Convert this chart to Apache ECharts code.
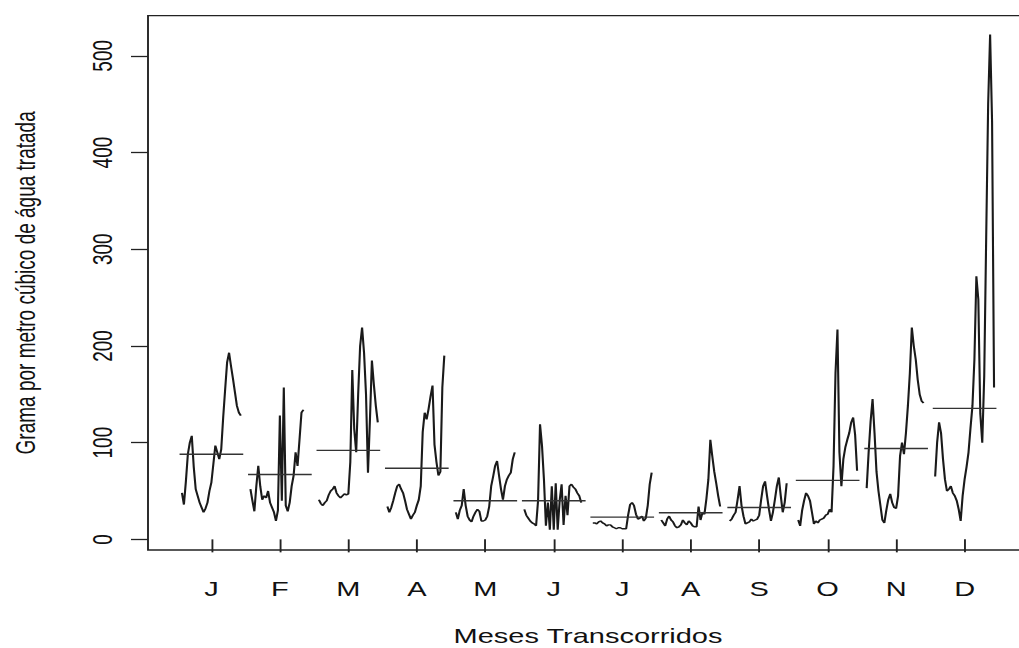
<!DOCTYPE html>
<html>
<head>
<meta charset="utf-8">
<script src="https://cdn.jsdelivr.net/npm/echarts@6/dist/echarts.min.js"></script>
<style>
html,body{margin:0;padding:0;background:#fff;overflow:hidden}
#wrap{width:1019px;height:648px;overflow:hidden;position:relative;background:#fff}
#chart{height:648px;transform-origin:0 0}
</style>
</head>
<body>
<div id="wrap"><div id="chart"></div></div>
<script>
// ---- data ----
const monthLabels = ['J','F','M','A','M','J','J','A','S','O','N','D'];
const yTicks = [0, 100, 200, 300, 400, 500];
const jan = [48, 36, 60, 88, 100, 107, 75, 52, 45, 38, 33, 28, 32, 38, 50, 59, 78, 97, 90, 83, 93, 126, 155, 183, 193, 179, 166, 152, 138, 131, 128];
const feb = [52, 40, 29, 55, 76, 55, 41, 45, 43, 50, 38, 33, 28, 19, 30, 128, 40, 157, 35, 29, 38, 55, 66, 90, 76, 103, 131, 134];
const mar = [41, 37, 35, 38, 40, 46, 50, 52, 55, 48, 45, 43, 45, 47, 46, 47, 80, 175, 114, 90, 150, 200, 219, 193, 150, 69, 124, 185, 160, 138, 121];
const apr = [34, 28, 33, 40, 48, 55, 57, 52, 48, 40, 31, 26, 21, 25, 28, 35, 41, 55, 111, 131, 124, 135, 148, 159, 98, 80, 66, 70, 157, 190];
const may = [28, 21, 30, 35, 52, 35, 24, 20, 18, 24, 28, 31, 29, 19, 19, 20, 24, 34, 55, 65, 76, 81, 66, 52, 41, 55, 62, 66, 69, 83, 90];
const jun = [31, 25, 22, 19, 17, 16, 14, 40, 119, 97, 62, 14, 38, 10, 55, 10, 58, 10, 40, 57, 15, 45, 25, 55, 57, 54, 52, 48, 45, 38];
const jul = [17, 17, 16, 18, 19, 17, 16, 14, 15, 15, 13, 12, 11, 12, 12, 11, 11, 11, 25, 36, 38, 35, 26, 21, 22, 24, 19, 22, 35, 57, 69];
const aug = [20, 17, 14, 21, 24, 20, 18, 14, 12, 13, 15, 20, 17, 15, 19, 17, 14, 13, 13, 34, 20, 28, 26, 42, 62, 103, 86, 70, 58, 45, 34];
const sep = [19, 21, 25, 28, 41, 55, 35, 24, 16, 17, 18, 21, 19, 20, 21, 25, 41, 55, 60, 45, 31, 19, 28, 41, 55, 64, 45, 28, 38, 58];
const oct = [20, 14, 30, 40, 48, 45, 40, 28, 16, 19, 17, 20, 21, 22, 25, 26, 31, 28, 76, 172, 217, 90, 55, 83, 95, 103, 110, 121, 126, 108, 71];
const nov = [53, 90, 122, 145, 110, 70, 50, 35, 20, 17, 30, 41, 47, 38, 33, 32, 45, 86, 100, 88, 110, 138, 172, 219, 200, 186, 165, 150, 143, 141];
const dec = [65, 100, 121, 110, 83, 62, 50, 52, 55, 48, 45, 40, 31, 19, 45, 62, 75, 90, 115, 138, 186, 272, 248, 130, 100, 169, 312, 450, 522, 432, 157];
const monthMeans = [88, 67, 92, 73.5, 40, 40, 23, 27.5, 33, 61, 94, 135.5];

// ---- layout ----
const S = 1.45;               // horizontal stretch of the reference picture
const W = 1019 / S;
const chartDom = document.getElementById('chart');
chartDom.style.width = W + 'px';
chartDom.style.transform = 'scaleX(' + S + ')';

const months = [jan, feb, mar, apr, may, jun, jul, aug, sep, oct, nov, dec];
const lineColor = '#1a1a1a';
const fontFam = '"Liberation Sans", Arial, Helvetica, sans-serif';
const series = [];
months.forEach(function (vals, i) {
  const c = i + 1;
  series.push({
    type: 'line', symbol: 'none', silent: true, animation: false,
    data: vals.map(function (v, k) { return [c - 0.43 + (0.86 / 30) * k, v]; }),
    lineStyle: { color: lineColor, width: 1.45 }
  });
  series.push({
    type: 'line', symbol: 'none', silent: true, animation: false,
    data: [[c - 0.465, monthMeans[i]], [c + 0.465, monthMeans[i]]],
    lineStyle: { color: '#333', width: 1.4 }
  });
});

const chart = echarts.init(chartDom, null, { renderer: 'svg' });
chart.setOption({
  animation: false,
  backgroundColor: '#fff',
  grid: {
    left: 148 / S, top: 15.7, width: 880 / S, height: 534.3,
    outerBoundsMode: 'none', containLabel: false,
    show: true, borderColor: '#222', borderWidth: 1.3, backgroundColor: 'transparent'
  },
  xAxis: {
    type: 'value', min: 0.074, max: 12.926,
    axisLine: { show: false },
    splitLine: { show: false },
    axisTick: { show: true, inside: false, length: 13, customValues: monthLabels.map(function (m, i) { return i + 1; }), lineStyle: { color: '#222', width: 1.3 } },
    axisLabel: {
      show: true, margin: 29, fontSize: 20, color: '#111', fontFamily: fontFam,
      customValues: monthLabels.map(function (m, i) { return i + 1; }),
      formatter: function (v) { return monthLabels[Math.round(v) - 1] || ''; }
    },
    name: 'Meses Transcorridos', nameLocation: 'middle', nameGap: 76,
    nameTextStyle: { fontSize: 20, color: '#111', fontFamily: fontFam }
  },
  yAxis: {
    type: 'value', min: -11, max: 541.5,
    axisLine: { show: false },
    splitLine: { show: false },
    axisTick: { show: true, inside: false, length: 17 / S, customValues: yTicks, lineStyle: { color: '#222', width: 1.3 } },
    axisLabel: {
      show: true, rotate: 90, margin: 21.5, fontSize: 19, color: '#111', fontFamily: fontFam,
      customValues: yTicks
    },
    name: 'Grama por metro cúbico de água tratada', nameLocation: 'middle', nameRotate: 90, nameGap: 75,
    nameTextStyle: { fontSize: 19, color: '#111', fontFamily: fontFam }
  },
  series: series
});
</script>
</body>
</html>
